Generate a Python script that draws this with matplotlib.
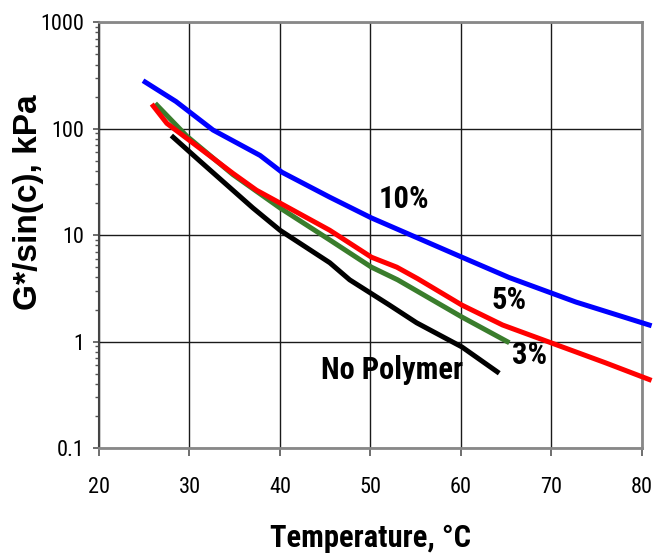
import matplotlib
matplotlib.use("Agg")
import matplotlib.pyplot as plt
from matplotlib import font_manager
from matplotlib.ticker import LogLocator, FixedLocator, NullFormatter

# data (temperature C, G*/sin(delta) kPa)
t_10 = [25.1, 28.5, 32.6, 37.8, 40.2, 45.5, 50.1, 55.2, 60.1, 65.3, 72.7, 80.8]
g_10 = [274, 180, 97, 56, 39, 22.7, 14.5, 9.4, 6.2, 4.0, 2.35, 1.43]

t_5 = [26.0, 27.5, 29.7, 34.8, 37.4, 40.0, 45.5, 50.1, 52.9, 55.2, 60.1, 64.6, 70.0, 76.0, 80.8]
g_5 = [163, 112, 81, 38, 26.4, 20, 11.1, 6.2, 5.0, 3.9, 2.2, 1.43, 0.97, 0.63, 0.44]

t_3 = [26.4, 29.7, 34.8, 40.0, 45.5, 50.1, 53.0, 60.1, 65.1]
g_3 = [166, 85, 37, 18, 9.0, 5.0, 3.8, 1.7, 1.0]

t_0 = [28.2, 31.1, 37.0, 40.0, 45.5, 47.7, 52.1, 55.1, 60.1, 64.0]
g_0 = [83, 50, 18, 11.1, 5.5, 3.8, 2.2, 1.5, 0.89, 0.52]

labels = ["10%", "5%", "3%", "No Polymer"]
label_pos = [(53.7, 22), (65.3, 2.45), (67.6, 0.75), (52.4, 0.54)]
x_ticks = [20, 30, 40, 50, 60, 70, 80]
y_ticks = [0.1, 1, 10, 100, 1000]
y_ticklabels = ["0.1", "1", "10", "100", "1000"]

names = {f.name for f in font_manager.fontManager.ttflist}
narrow = "Liberation Sans"
for cand in ["Roboto Condensed", "PT Sans Narrow", "Liberation Sans Narrow"]:
    if cand in names:
        narrow = cand
        break

fig = plt.figure(figsize=(6.6, 5.54), dpi=100)
ax = fig.add_axes([0.15, 0.1913, 0.8227, 0.7687])

ax.plot(t_10, g_10, color="#0000ff", lw=3.6, clip_on=False, zorder=5)
ax.plot(t_3, g_3, color="#3a7d2c", lw=3.6, clip_on=False, zorder=4)
ax.plot(t_5, g_5, color="#ff0000", lw=3.6, clip_on=False, zorder=5)
ax.plot(t_0, g_0, color="#000000", lw=3.6, clip_on=False, zorder=5)

for lab, (x, y) in zip(labels, label_pos):
    ax.text(x, y, lab, fontsize=22, fontweight="bold", family=narrow,
            ha="center", va="center", zorder=6)

ax.set_yscale("log")
ax.set_xlim(20, 80)
ax.set_ylim(0.1, 1000)
ax.xaxis.set_major_locator(FixedLocator(x_ticks))
ax.yaxis.set_minor_locator(LogLocator(base=10, subs=range(2, 10), numticks=10))
ax.yaxis.set_minor_formatter(NullFormatter())
ax.set_yticks(y_ticks)
ax.set_yticklabels(y_ticklabels)

ax.grid(True, which="major", color="#1a1a1a", lw=1.0)
ax.tick_params(axis="both", which="major", labelsize=16, direction="out",
               width=1.2, color="#555555")
ax.tick_params(axis="x", length=6, pad=15)
ax.tick_params(axis="y", length=4, pad=6.5)
ax.tick_params(axis="y", which="minor", length=3, width=1, color="#555555")
for lbl in ax.get_xticklabels() + ax.get_yticklabels():
    lbl.set_family(narrow)

for s in ax.spines.values():
    s.set_color("#888888")
    s.set_linewidth(2)
ax.spines["left"].set_color("#444444")
ax.spines["left"].set_linewidth(1.5)

ax.set_xlabel("Temperature, \u00b0C", fontsize=22, fontweight="bold", family=narrow)
ax.xaxis.set_label_coords(0.5, -0.211)
ax.xaxis.label.set_va("center")
ax.set_ylabel("G*/sin(c), kPa", fontsize=24, fontweight="bold", family="Liberation Sans")
ax.yaxis.set_label_coords(-0.129, 0.577)
ax.yaxis.label.set_va("center")

fig.savefig("out.png", dpi=100)
